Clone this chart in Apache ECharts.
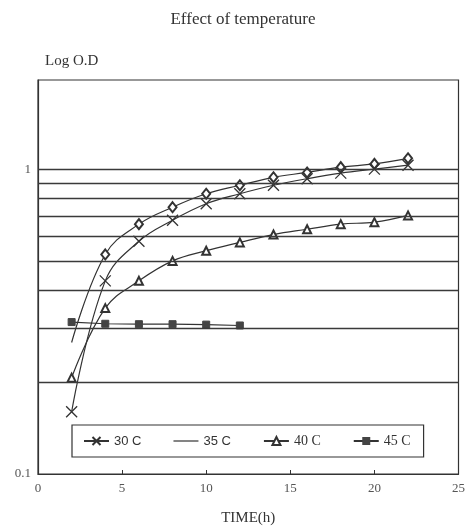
<!DOCTYPE html>
<html>
<head>
<meta charset="utf-8">
<script src="https://cdn.jsdelivr.net/npm/echarts@6/dist/echarts.min.js"></script>
<style>html,body{margin:0;padding:0;background:#fff}#c{width:468px;height:531px}</style>
</head>
<body>
<div id="c"></div>
<script>
const times = [2, 4, 6, 8, 10, 12, 14, 16, 18, 20, 22];
const s30 = [0.16, 0.43, 0.58, 0.68, 0.77, 0.83, 0.885, 0.93, 0.97, 1.0, 1.03];
const s35 = [0.27, 0.525, 0.66, 0.75, 0.83, 0.885, 0.94, 0.975, 1.015, 1.04, 1.085];
const s35Marked = [false, true, true, true, true, true, true, true, true, true, true];
const s40 = [0.207, 0.35, 0.43, 0.50, 0.54, 0.575, 0.61, 0.635, 0.66, 0.67, 0.705];
const times45 = [2, 4, 6, 8, 10, 12];
const s45 = [0.315, 0.311, 0.31, 0.31, 0.309, 0.307];
const gridValues = [0.2, 0.3, 0.4, 0.5, 0.6, 0.7, 0.8, 0.9, 1.0];
const seriesNames = ['30 C', '35 C', '40 C', '45 C'];
const xTicks = [0, 5, 10, 15, 20, 25];
const yLabels = [0.1, 1];

const ink = '#333';
const serif = '"Liberation Serif", "DejaVu Serif", serif';
const sans = '"Liberation Sans", "DejaVu Sans", sans-serif';
const pair = (xs, ys) => xs.map((x, i) => [x, ys[i]]);
const xPath = 'path://M0,0L10,10M10,0L0,10';
const lineIcon = 'path://M0,0L0,0M0,4.4H25V5.6H0ZM25,10L25,10';

const chart = echarts.init(document.getElementById('c'), null, {renderer: 'canvas'});
chart.setOption({
  animation: false,
  backgroundColor: '#fff',
  title: {
    text: 'Effect of temperature',
    left: 238, top: 6, textAlign: 'center',
    textStyle: {fontFamily: serif, fontSize: 17, fontWeight: 'normal', color: ink}
  },
  graphic: [{
    type: 'text', left: 45, top: 54,
    style: {text: 'Log O.D', font: '15px ' + serif, fill: ink}
  }],
  grid: {left: 38, right: 8, top: 80, bottom: 57, show: true, borderColor: ink, borderWidth: 1.2, backgroundColor: 'transparent'},
  legend: {
    left: 72, top: 425,
    padding: [9, 13, 9, 11],
    itemGap: 32, itemWidth: 25, itemHeight: 10,
    borderColor: ink, borderWidth: 1.2,
    data: [
      {name: seriesNames[0], textStyle: {fontFamily: sans}},
      {name: seriesNames[1], icon: lineIcon, itemStyle: {color: ink, borderWidth: 0}, textStyle: {fontFamily: sans}},
      {name: seriesNames[2], textStyle: {fontFamily: serif, fontSize: 14}},
      {name: seriesNames[3], textStyle: {fontFamily: serif, fontSize: 14}}
    ],
    textStyle: {fontSize: 13, color: ink}
  },
  xAxis: {
    type: 'value', min: 0, max: 25, interval: 5,
    name: 'TIME(h)', nameLocation: 'middle', nameGap: 37,
    nameTextStyle: {fontFamily: serif, fontSize: 15, color: ink},
    axisLine: {show: true, lineStyle: {color: ink, width: 1.2}},
    axisTick: {show: true, inside: true, length: 4, lineStyle: {color: ink}},
    axisLabel: {fontFamily: serif, fontSize: 13, color: '#555', margin: 8,
      formatter: v => xTicks.includes(v) ? String(v) : ''},
    splitLine: {show: false}
  },
  yAxis: {
    type: 'log', logBase: 10, min: 0.1, max: 1.96,
    axisLine: {show: true, lineStyle: {color: ink, width: 1.2}},
    axisTick: {show: false},
    splitLine: {show: false},
    axisLabel: {fontFamily: serif, fontSize: 13, color: '#555', margin: 7,
      formatter: v => {
        const m = yLabels.find(l => Math.abs(l - v) < 1e-9);
        return m !== undefined ? String(m) : '';
      }}
  },
  series: [
    {
      name: seriesNames[0], type: 'line', smooth: 0.4,
      data: pair(times, s30),
      symbol: xPath, symbolSize: 11,
      itemStyle: {color: ink, borderColor: ink, borderWidth: 1.3},
      lineStyle: {color: ink, width: 1.2, type: 'solid'},
      markLine: {
        silent: true, symbol: 'none', label: {show: false},
        lineStyle: {color: '#3a3a3a', width: 1.3, type: 'solid'},
        data: gridValues.map(v => ({yAxis: v}))
      },
      z: 3
    },
    {
      name: seriesNames[1], type: 'line', smooth: 0.4,
      data: times.map((t, i) => s35Marked[i]
        ? {value: [t, s35[i]], symbol: 'emptyDiamond', symbolSize: [8, 10]}
        : {value: [t, s35[i]], symbol: 'none'}),
      symbol: 'emptyDiamond', symbolSize: [8, 10],
      itemStyle: {color: ink, borderWidth: 1.2},
      lineStyle: {color: ink, width: 1.2, type: 'solid'},
      z: 3
    },
    {
      name: seriesNames[2], type: 'line', smooth: 0.4,
      data: pair(times, s40),
      symbol: 'emptyTriangle', symbolSize: 8,
      itemStyle: {color: ink, borderWidth: 1.2},
      lineStyle: {color: ink, width: 1.2, type: 'solid'},
      z: 3
    },
    {
      name: seriesNames[3], type: 'line',
      data: pair(times45, s45),
      symbol: 'rect', symbolSize: 7,
      itemStyle: {color: '#444', borderColor: '#444'},
      lineStyle: {color: ink, width: 1.2, type: 'solid'},
      z: 3
    }
  ]
});
</script>
</body>
</html>
